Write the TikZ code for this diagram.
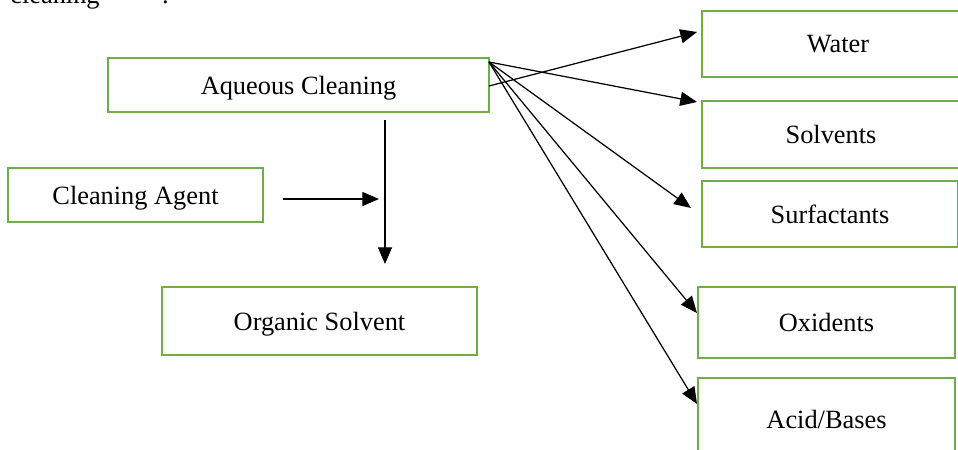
\documentclass[tikz,border=0pt]{standalone}
\usepackage{fontspec}
\setmainfont{Liberation Serif}
\usetikzlibrary{arrows.meta}
\definecolor{boxgreen}{RGB}{112,173,71}
\begin{document}
\begin{tikzpicture}[x=0.02cm,y=-0.02cm,
  box/.style={draw=boxgreen,line width=1.5pt,inner sep=0pt,align=center,
    text depth=0pt,font=\fontsize{15}{18}\selectfont},
  conn/.style={line width=0.7pt,-{Triangle[length=9.5pt,width=8pt]}}]
\useasboundingbox (0,0) rectangle (958,450);
% cut-off text at top
\node[anchor=base west,inner sep=0pt,font=\fontsize{15}{18}\selectfont] (cut) at (10,3) {cleaning\hspace{1.25cm}.};
% boxes
\node[box,minimum width=7.62cm,minimum height=1.08cm] (aq) at (298.5,85) {Aqueous Cleaning};
\node[box,minimum width=5.10cm,minimum height=1.08cm] (ca) at (135.5,195) {Cleaning Agent};
\node[box,minimum width=6.30cm,minimum height=1.36cm] (os) at (319.5,321) {Organic Solvent};
\node[box,minimum width=5.44cm,minimum height=1.32cm] (wa) at (838,44) {Water};
\node[box,minimum width=5.16cm,minimum height=1.34cm] (so) at (831,134.5) {Solvents};
\node[box,minimum width=5.12cm,minimum height=1.32cm] (su) at (830,214) {Surfactants};
\node[box,minimum width=5.14cm,minimum height=1.42cm] (ox) at (826.5,322.5) {Oxidents};
\node[box,minimum width=5.14cm,minimum height=1.64cm] (ab) at (826.5,419) {Acid/Bases};
% connector end points
\coordinate (aqA) at (489,86);
\coordinate (aqB) at (489,62);
\coordinate (waT) at (697,32);
\coordinate (soT) at (697,102);
\coordinate (suT) at (691,208);
\coordinate (oxT) at (697,313);
\coordinate (abT) at (697,404);
\coordinate (vTop) at (385,120);
\coordinate (vBot) at (385,264);
\coordinate (hL) at (283,199);
\coordinate (hR) at (379,199);
% connectors
\draw[conn] (aqA) -- (waT);
\draw[conn] (aqB) -- (soT);
\draw[conn] (aqB) -- (suT);
\draw[conn] (aqB) -- (oxT);
\draw[conn] (aqB) -- (abT);
\draw[conn] (vTop) -- (vBot);
\draw[conn] (hL) -- (hR);
\end{tikzpicture}
\end{document}
